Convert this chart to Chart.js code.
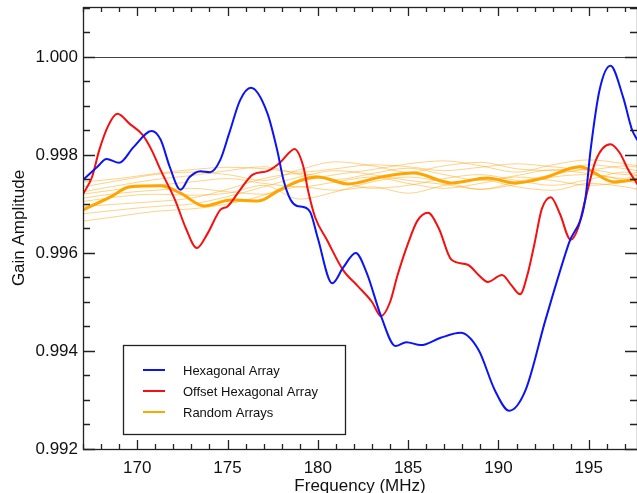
<!DOCTYPE html>
<html>
<head>
<meta charset="utf-8">
<script src="https://cdn.jsdelivr.net/npm/chart.js@4.4.1/dist/chart.umd.min.js"></script>
<style>
html, body { margin: 0; padding: 0; background: #fff; }
#wrap { width: 637px; height: 493px; }
</style>
</head>
<body>
<div id="wrap"><canvas id="gainChart" width="637" height="493"></canvas></div>
<script>
// tick labels
const xTicks = [170, 175, 180, 185, 190, 195];
const yTicks = [0.992, 0.994, 0.996, 0.998, 1.000];

// Hexagonal Array
const hexFreq = [167.0, 167.8, 168.3, 169.0, 169.8, 170.8, 171.3, 171.8, 172.4, 172.9, 173.5, 174.05,
  174.6, 175.1, 175.7, 176.3, 177.2, 177.75, 178.1, 178.5, 178.85, 179.2, 179.6, 180.0, 180.8, 181.4,
  182.1, 182.7, 183.5, 184.3, 184.9, 185.7, 186.8, 187.9, 188.9, 189.8, 190.6, 191.5, 192.6, 193.9,
  194.8, 195.1, 195.6, 196.2, 196.9, 197.4, 197.7];
const hexGain = [0.99749, 0.99776, 0.99792, 0.99784, 0.99816, 0.99849, 0.99831, 0.99776, 0.99729, 0.99755, 0.99767, 0.99765,
  0.99790, 0.99845, 0.99912, 0.99937, 0.99886, 0.99810, 0.99749, 0.99708, 0.99696, 0.99694, 0.99682, 0.99630, 0.99538, 0.99570,
  0.99600, 0.99560, 0.99471, 0.99410, 0.99418, 0.99412, 0.99427, 0.99437, 0.99402, 0.99320, 0.99278, 0.99320, 0.99463, 0.99620,
  0.99708, 0.99810, 0.99933, 0.99982, 0.99918, 0.99851, 0.99830];

// Offset Hexagonal Array
const offFreq = [167.0, 167.5, 167.9, 168.4, 168.9, 169.6, 170.3, 170.8, 171.3, 172.1, 172.7, 173.3,
  173.9, 174.6, 175.0, 175.7, 176.4, 177.2, 177.9, 178.45, 178.7, 179.2, 179.45, 179.85, 180.5, 181.4,
  182.2, 183.0, 183.5, 184.0, 184.4, 185.0, 185.5, 186.1, 186.7, 187.4, 188.3, 188.9, 189.4, 190.2,
  190.7, 191.2, 191.6, 192.0, 192.4, 192.9, 193.4, 194.0, 194.4, 194.8, 195.4, 196.2, 196.7, 197.2, 197.7];
const offGain = [0.99720, 0.99755, 0.99810, 0.99860, 0.99884, 0.99863, 0.99841, 0.99810, 0.99769, 0.99708, 0.99650, 0.99610,
  0.99640, 0.99688, 0.99695, 0.99729, 0.99760, 0.99767, 0.99784, 0.99806, 0.99812, 0.99776, 0.99729, 0.99673, 0.99627, 0.99565,
  0.99533, 0.99500, 0.99471, 0.99500, 0.99553, 0.99620, 0.99665, 0.99682, 0.99650, 0.99586, 0.99576, 0.99555, 0.99541, 0.99555,
  0.99535, 0.99516, 0.99555, 0.99620, 0.99690, 0.99714, 0.99680, 0.99627, 0.99650, 0.99708, 0.99790, 0.99822, 0.99805, 0.99769, 0.99740];

// Random Arrays (mean, thick line)
const randFreq = [167.0, 168.5, 169.6, 171.3, 172.4, 173.7, 175.2, 176.7, 177.9, 179.1, 180.0,
  181.7, 183.5, 185.3, 187.4, 189.4, 190.9, 192.5, 194.5, 196.4, 197.7];
const randGain = [0.99688, 0.99714, 0.99735, 0.99737, 0.99722, 0.99696, 0.99708, 0.99706, 0.99729, 0.99749, 0.99755,
  0.99741, 0.99755, 0.99763, 0.99743, 0.99753, 0.99743, 0.99753, 0.99776, 0.99745, 0.99751];

// individual random arrays (thin lines)
const thinFreq = [167, 169, 171, 173, 175, 177, 179, 181, 183, 185, 187, 189, 191, 193, 195, 197, 197.7];
const rand1 = [0.99745, 0.99752, 0.99762, 0.99770, 0.99775, 0.99772, 0.99765, 0.99772, 0.99780, 0.99776, 0.99768, 0.99775, 0.99782, 0.99776, 0.99770, 0.99778, 0.99775];
const rand2 = [0.99735, 0.99748, 0.99760, 0.99765, 0.99760, 0.99748, 0.99770, 0.99786, 0.99778, 0.99765, 0.99778, 0.99785, 0.99772, 0.99768, 0.99780, 0.99772, 0.99768];
const rand3 = [0.99725, 0.99738, 0.99750, 0.99758, 0.99768, 0.99776, 0.99760, 0.99750, 0.99762, 0.99773, 0.99760, 0.99748, 0.99758, 0.99770, 0.99762, 0.99752, 0.99760];
const rand4 = [0.99720, 0.99730, 0.99738, 0.99745, 0.99752, 0.99742, 0.99735, 0.99745, 0.99755, 0.99742, 0.99732, 0.99742, 0.99755, 0.99748, 0.99738, 0.99745, 0.99750];
const rand5 = [0.99712, 0.99722, 0.99728, 0.99732, 0.99725, 0.99720, 0.99735, 0.99728, 0.99735, 0.99722, 0.99738, 0.99750, 0.99735, 0.99728, 0.99742, 0.99735, 0.99730];
const rand6 = [0.99705, 0.99715, 0.99720, 0.99718, 0.99722, 0.99738, 0.99710, 0.99725, 0.99745, 0.99755, 0.99745, 0.99730, 0.99740, 0.99755, 0.99760, 0.99748, 0.99742];
const rand7 = [0.99695, 0.99700, 0.99705, 0.99712, 0.99730, 0.99752, 0.99762, 0.99748, 0.99732, 0.99738, 0.99752, 0.99760, 0.99748, 0.99738, 0.99750, 0.99765, 0.99758];
const rand8 = [0.99680, 0.99688, 0.99695, 0.99700, 0.99715, 0.99735, 0.99755, 0.99768, 0.99760, 0.99748, 0.99740, 0.99730, 0.99745, 0.99760, 0.99770, 0.99760, 0.99765];
const rand9 = [0.99665, 0.99675, 0.99685, 0.99690, 0.99700, 0.99718, 0.99745, 0.99760, 0.99770, 0.99782, 0.99788, 0.99778, 0.99765, 0.99780, 0.99790, 0.99782, 0.99778];

const legendLabels = ['Hexagonal Array', 'Offset Hexagonal Array', 'Random Arrays'];
const legendColors = ['#0a14f5', '#f50f0f', '#ffa500'];

const FONT = '"Liberation Sans", Arial, Helvetica, sans-serif';

function toPoints(xs, ys) {
    return xs.map((x, i) => ({x: x, y: ys[i]}));
}

function lineSet(label, xs, ys, color, width) {
    return {
        label: label,
        data: toPoints(xs, ys),
        borderColor: color,
        borderWidth: width,
        pointRadius: 0,
        fill: false,
        cubicInterpolationMode: 'monotone'
    };
}

const datasets = [
    lineSet(legendLabels[0], hexFreq, hexGain, legendColors[0], 2),
    lineSet(legendLabels[1], offFreq, offGain, legendColors[1], 2),
    lineSet(legendLabels[2], randFreq, randGain, legendColors[2], 3)
];
[rand1, rand2, rand3, rand4, rand5, rand6, rand7, rand8, rand9].forEach((r, i) => {
    datasets.push(lineSet('Random ' + (i + 1), thinFreq, r, 'rgba(255,165,20,0.5)', 1));
});

// box, mirrored inward ticks and the 1.000 reference line
const framePlugin = {
    id: 'frame',
    beforeDatasetsDraw(chart) {
        const {ctx, chartArea: a, scales: {y}} = chart;
        const py = Math.round(y.getPixelForValue(1.0)) + 0.5;
        ctx.save();
        ctx.strokeStyle = '#444';
        ctx.lineWidth = 1;
        ctx.beginPath();
        ctx.moveTo(a.left, py);
        ctx.lineTo(a.right, py);
        ctx.stroke();
        ctx.restore();
    },
    afterDatasetsDraw(chart) {
        const {ctx, chartArea: a, scales: {x, y}} = chart;
        ctx.save();
        ctx.strokeStyle = '#222';
        ctx.lineWidth = 1.3;
        ctx.strokeRect(a.left + 0.5, a.top + 0.5, a.right - a.left, a.bottom - a.top);
        ctx.beginPath();
        for (let f = 167; f <= 197.7; f += 1) {
            const px = Math.round(x.getPixelForValue(f)) + 0.5;
            const len = (f % 5 === 0) ? 9 : 5;
            ctx.moveTo(px, a.bottom); ctx.lineTo(px, a.bottom - len);
            ctx.moveTo(px, a.top); ctx.lineTo(px, a.top + len);
        }
        for (let k = 0; k <= 18; k++) {
            const v = 0.992 + k * 0.0005;
            const py = Math.round(y.getPixelForValue(v)) + 0.5;
            const len = (k % 4 === 0) ? 12 : 7;
            ctx.moveTo(a.left, py); ctx.lineTo(a.left + len, py);
            ctx.moveTo(a.right, py); ctx.lineTo(a.right - len, py);
        }
        ctx.stroke();
        ctx.restore();
    },
    afterDraw(chart) {
        const ctx = chart.ctx;
        const bx = 123, by = 345, bw = 222, bh = 89;
        ctx.save();
        ctx.fillStyle = '#fff';
        ctx.fillRect(bx, by, bw, bh);
        ctx.strokeStyle = '#222';
        ctx.lineWidth = 1.3;
        ctx.strokeRect(bx + 0.5, by + 0.5, bw, bh);
        ctx.font = '13px ' + FONT;
        ctx.textBaseline = 'middle';
        legendLabels.forEach((lab, i) => {
            const ly = by + 25 + i * 21;
            ctx.strokeStyle = legendColors[i];
            ctx.lineWidth = 2;
            ctx.beginPath();
            ctx.moveTo(bx + 20, ly);
            ctx.lineTo(bx + 42, ly);
            ctx.stroke();
            ctx.fillStyle = '#111';
            ctx.fillText(lab, bx + 60, ly + 1);
        });
        ctx.restore();
    }
};

new Chart(document.getElementById('gainChart').getContext('2d'), {
    type: 'line',
    data: {datasets: datasets},
    plugins: [framePlugin],
    options: {
        responsive: false,
        animation: false,
        layout: {padding: {top: 7, right: 0, left: 0, bottom: 0}},
        plugins: {legend: {display: false}, tooltip: {enabled: false}},
        scales: {
            x: {
                type: 'linear',
                min: 167,
                max: 197.67,
                afterFit(scale) { scale.height = 44; },
                afterBuildTicks(scale) { scale.ticks = xTicks.map(v => ({value: v})); },
                grid: {display: false, drawTicks: false},
                border: {display: false},
                ticks: {
                    color: '#111',
                    padding: 9,
                    maxRotation: 0,
                    font: {family: FONT, size: 17},
                    callback: v => String(v)
                },
                title: {
                    display: true,
                    text: 'Frequency (MHz)',
                    color: '#111',
                    font: {family: FONT, size: 17},
                    padding: {top: 0, bottom: -4}
                }
            },
            y: {
                type: 'linear',
                min: 0.992,
                max: 1.00102,
                afterFit(scale) {
                    scale.width = 83;
                    scale.paddingTop = 0;
                    scale.paddingBottom = 0;
                },
                afterBuildTicks(scale) { scale.ticks = yTicks.map(v => ({value: v})); },
                grid: {display: false, drawTicks: false},
                border: {display: false},
                ticks: {
                    color: '#111',
                    padding: 5,
                    font: {family: FONT, size: 17},
                    callback: v => Number(v).toFixed(3)
                },
                title: {
                    display: true,
                    text: 'Gain Amplitude',
                    color: '#111',
                    font: {family: FONT, size: 17},
                    padding: {top: 9, bottom: 0}
                }
            }
        }
    }
});
</script>
</body>
</html>
